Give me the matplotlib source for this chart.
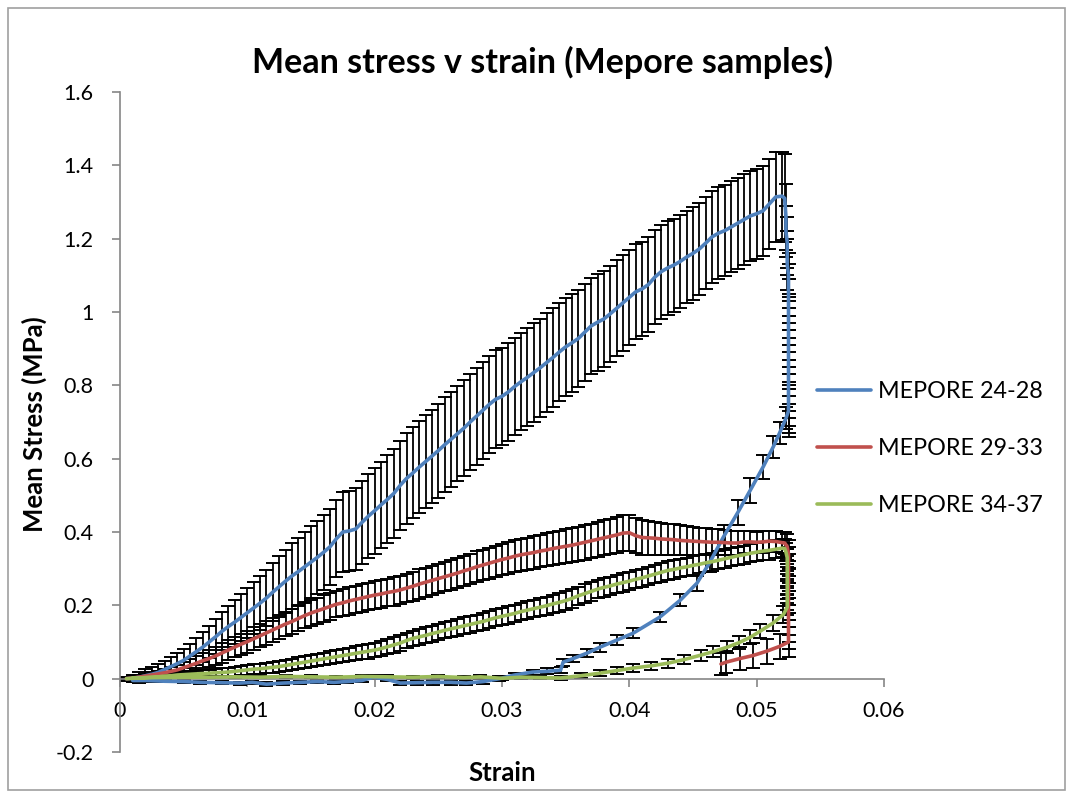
import matplotlib
matplotlib.use("Agg")
import matplotlib.pyplot as plt
from matplotlib.patches import Rectangle

plt.rcParams["font.family"] = ["Lato", "DejaVu Sans"]

# Strain steps of the loading ramp (shared by the three sample groups)
strain_load = [
    0.0005, 0.0010, 0.0015, 0.0020, 0.0025, 0.0030, 0.0035, 0.0040, 0.0045, 0.0050,
    0.0055, 0.0060, 0.0065, 0.0070, 0.0075, 0.0080, 0.0085, 0.0090, 0.0095, 0.0100,
    0.0105, 0.0110, 0.0115, 0.0120, 0.0125, 0.0130, 0.0135, 0.0140, 0.0145, 0.0150,
    0.0155, 0.0160, 0.0165, 0.0170, 0.0175, 0.0180, 0.0185, 0.0190, 0.0195, 0.0200,
    0.0205, 0.0210, 0.0215, 0.0220, 0.0225, 0.0230, 0.0235, 0.0240, 0.0245, 0.0250,
    0.0255, 0.0260, 0.0265, 0.0270, 0.0275, 0.0280, 0.0285, 0.0290, 0.0295, 0.0300,
    0.0305, 0.0310, 0.0315, 0.0320, 0.0325, 0.0330, 0.0335, 0.0340, 0.0345, 0.0350,
    0.0355, 0.0360, 0.0365, 0.0370, 0.0375, 0.0380, 0.0385, 0.0390, 0.0395, 0.0400,
    0.0405, 0.0410, 0.0415, 0.0420, 0.0425, 0.0430, 0.0435, 0.0440, 0.0445, 0.0450,
    0.0455, 0.0460, 0.0465, 0.0470, 0.0475, 0.0480, 0.0485, 0.0490, 0.0495, 0.0500,
    0.0505, 0.0510, 0.0515, 0.0520,
]

# MEPORE 24-28
blue_load = [
    0.000, 0.001, 0.004, 0.008, 0.012, 0.017, 0.025, 0.033, 0.041, 0.050,
    0.062, 0.074, 0.086, 0.100, 0.114, 0.129, 0.142, 0.154, 0.167, 0.180,
    0.193, 0.206, 0.220, 0.236, 0.251, 0.266, 0.280, 0.292, 0.305, 0.318,
    0.331, 0.345, 0.360, 0.382, 0.400, 0.403, 0.408, 0.426, 0.443, 0.458,
    0.474, 0.489, 0.505, 0.527, 0.546, 0.561, 0.577, 0.592, 0.607, 0.622,
    0.638, 0.653, 0.668, 0.683, 0.700, 0.716, 0.732, 0.748, 0.762, 0.770,
    0.782, 0.797, 0.810, 0.822, 0.835, 0.848, 0.862, 0.876, 0.891, 0.905,
    0.916, 0.928, 0.945, 0.962, 0.972, 0.981, 0.995, 1.010, 1.025, 1.040,
    1.055, 1.063, 1.075, 1.095, 1.110, 1.120, 1.128, 1.138, 1.150, 1.160,
    1.172, 1.188, 1.205, 1.215, 1.222, 1.232, 1.242, 1.252, 1.262, 1.268,
    1.276, 1.295, 1.314, 1.316,
]
blue_load_err = [
    0.005, 0.010, 0.015, 0.018, 0.020, 0.022, 0.024, 0.026, 0.028, 0.030,
    0.033, 0.036, 0.040, 0.044, 0.048, 0.052, 0.056, 0.060, 0.064, 0.068,
    0.071, 0.074, 0.077, 0.080, 0.083, 0.086, 0.089, 0.092, 0.095, 0.098,
    0.100, 0.102, 0.104, 0.106, 0.108, 0.110, 0.112, 0.114, 0.115, 0.117,
    0.118, 0.120, 0.121, 0.122, 0.123, 0.124, 0.125, 0.126, 0.127, 0.128,
    0.129, 0.130, 0.130, 0.131, 0.131, 0.132, 0.132, 0.132, 0.133, 0.133,
    0.133, 0.133, 0.133, 0.134, 0.134, 0.134, 0.134, 0.134, 0.133, 0.133,
    0.133, 0.133, 0.132, 0.132, 0.132, 0.131, 0.131, 0.131, 0.130, 0.130,
    0.130, 0.129, 0.129, 0.128, 0.128, 0.128, 0.127, 0.127, 0.126, 0.126,
    0.126, 0.125, 0.125, 0.125, 0.124, 0.124, 0.124, 0.123, 0.123, 0.123,
    0.122, 0.122, 0.122, 0.121,
]
blue_hold_strain = [0.0522, 0.0523, 0.0523, 0.0524, 0.0524, 0.0524, 0.0525, 0.0525,
                    0.0525, 0.0525, 0.0525, 0.0525, 0.0525, 0.0525, 0.0525, 0.0525,
                    0.0525, 0.0525, 0.0525, 0.0525, 0.0525, 0.0525]
blue_hold = [1.31, 1.26, 1.22, 1.19, 1.16, 1.13, 1.10, 1.06, 1.02, 0.98, 0.95,
             0.93, 0.91, 0.89, 0.87, 0.85, 0.83, 0.81, 0.79, 0.77, 0.75, 0.73]
blue_hold_err = [0.12, 0.09, 0.07, 0.07, 0.06, 0.07, 0.06, 0.07, 0.07, 0.07, 0.08,
                 0.08, 0.08, 0.08, 0.08, 0.08, 0.08, 0.08, 0.08, 0.08, 0.08, 0.07]
blue_unload_strain = [
    0.0523, 0.0518, 0.0513, 0.0505, 0.0495, 0.0485, 0.0474, 0.0463, 0.0453, 0.0440,
    0.0424, 0.0403, 0.0390, 0.0377, 0.0367, 0.0356, 0.0348, 0.0346, 0.0335, 0.0324,
    0.0310, 0.0298, 0.0285, 0.0272, 0.0260, 0.0246, 0.0233, 0.0220, 0.0210, 0.0199,
    0.0190, 0.0178, 0.0168, 0.0155, 0.0141, 0.0128, 0.0115, 0.0104, 0.0094, 0.0080,
    0.0063, 0.0050, 0.0035, 0.0020, 0.0010,
]
blue_unload = [
    0.710, 0.670, 0.632, 0.577, 0.514, 0.452, 0.387, 0.316, 0.260, 0.214,
    0.168, 0.124, 0.105, 0.086, 0.070, 0.055, 0.045, 0.023, 0.020, 0.018,
    0.010, 0.000, -0.008, -0.012, -0.010, -0.010, -0.011, -0.012, -0.002, 0.004,
    -0.005, -0.008, -0.010, -0.008, -0.010, -0.012, -0.015, -0.010, -0.012, -0.011,
    -0.010, -0.008, -0.007, -0.005, -0.005,
]
blue_unload_err = [
    0.030, 0.030, 0.031, 0.032, 0.034, 0.034, 0.032, 0.025, 0.020, 0.016,
    0.014, 0.013, 0.013, 0.012, 0.012, 0.010, 0.010, 0.008, 0.008, 0.007,
    0.006, 0.006, 0.006, 0.006, 0.006, 0.006, 0.006, 0.006, 0.005, 0.005,
    0.005, 0.005, 0.005, 0.005, 0.005, 0.005, 0.005, 0.005, 0.004, 0.004,
    0.004, 0.004, 0.003, 0.003, 0.003,
]

# MEPORE 29-33
red_load = [
    0.000, 0.002, 0.004, 0.007, 0.010, 0.013, 0.016, 0.020, 0.024, 0.030,
    0.036, 0.042, 0.049, 0.055, 0.062, 0.070, 0.078, 0.086, 0.094, 0.101,
    0.109, 0.117, 0.125, 0.133, 0.141, 0.149, 0.156, 0.164, 0.172, 0.179,
    0.185, 0.191, 0.197, 0.203, 0.207, 0.212, 0.216, 0.220, 0.224, 0.228,
    0.231, 0.235, 0.238, 0.242, 0.247, 0.252, 0.258, 0.263, 0.268, 0.273,
    0.278, 0.283, 0.288, 0.294, 0.299, 0.305, 0.310, 0.315, 0.320, 0.325,
    0.329, 0.334, 0.338, 0.341, 0.344, 0.348, 0.351, 0.355, 0.358, 0.361,
    0.364, 0.368, 0.372, 0.376, 0.380, 0.384, 0.388, 0.392, 0.397, 0.398,
    0.390, 0.385, 0.384, 0.383, 0.381, 0.380, 0.379, 0.377, 0.376, 0.375,
    0.374, 0.373, 0.372, 0.372, 0.371, 0.370, 0.370, 0.373, 0.373, 0.372,
    0.373, 0.375, 0.374, 0.371,
]
red_load_err = [
    0.002, 0.004, 0.005, 0.006, 0.007, 0.008, 0.010, 0.011, 0.013, 0.015,
    0.017, 0.019, 0.021, 0.023, 0.025, 0.026, 0.027, 0.028, 0.029, 0.030,
    0.031, 0.031, 0.032, 0.032, 0.033, 0.033, 0.034, 0.034, 0.035, 0.035,
    0.035, 0.036, 0.036, 0.036, 0.037, 0.037, 0.037, 0.037, 0.038, 0.038,
    0.038, 0.038, 0.039, 0.039, 0.039, 0.039, 0.040, 0.040, 0.040, 0.040,
    0.040, 0.041, 0.041, 0.041, 0.041, 0.042, 0.042, 0.042, 0.042, 0.042,
    0.043, 0.043, 0.043, 0.044, 0.044, 0.044, 0.045, 0.045, 0.045, 0.046,
    0.046, 0.046, 0.047, 0.047, 0.048, 0.048, 0.048, 0.049, 0.049, 0.049,
    0.048, 0.047, 0.046, 0.045, 0.044, 0.043, 0.042, 0.041, 0.040, 0.039,
    0.038, 0.037, 0.036, 0.035, 0.034, 0.033, 0.032, 0.031, 0.030, 0.029,
    0.029, 0.028, 0.028, 0.028,
]
red_hold_strain = [0.0522, 0.0524, 0.0525, 0.0525, 0.0525, 0.0525, 0.0525, 0.0525,
                   0.0525, 0.0525, 0.0525, 0.0525, 0.0525, 0.0525, 0.0525]
red_hold = [0.370, 0.360, 0.340, 0.320, 0.300, 0.280, 0.260, 0.240,
            0.220, 0.200, 0.180, 0.160, 0.140, 0.120, 0.100]
red_hold_err = [0.030, 0.035, 0.038, 0.040, 0.040, 0.040, 0.040, 0.040,
                0.040, 0.040, 0.040, 0.040, 0.040, 0.040, 0.040]
red_unload_strain = [0.0518, 0.0508, 0.0497, 0.0487, 0.0476, 0.0472]
red_unload = [0.088, 0.075, 0.063, 0.055, 0.045, 0.040]
red_unload_err = [0.035, 0.034, 0.033, 0.031, 0.030, 0.029]

# MEPORE 34-37
green_load = [
    0.000, 0.001, 0.002, 0.003, 0.004, 0.005, 0.007, 0.008, 0.010, 0.011,
    0.012, 0.013, 0.014, 0.015, 0.016, 0.017, 0.018, 0.020, 0.022, 0.024,
    0.026, 0.027, 0.029, 0.031, 0.033, 0.036, 0.039, 0.042, 0.045, 0.048,
    0.051, 0.054, 0.057, 0.060, 0.063, 0.066, 0.069, 0.072, 0.075, 0.078,
    0.082, 0.087, 0.092, 0.097, 0.104, 0.110, 0.114, 0.118, 0.123, 0.127,
    0.132, 0.136, 0.140, 0.144, 0.148, 0.152, 0.156, 0.161, 0.166, 0.170,
    0.174, 0.178, 0.183, 0.187, 0.191, 0.195, 0.199, 0.204, 0.208, 0.213,
    0.219, 0.226, 0.232, 0.238, 0.244, 0.249, 0.253, 0.258, 0.262, 0.266,
    0.271, 0.275, 0.280, 0.285, 0.290, 0.295, 0.298, 0.302, 0.305, 0.309,
    0.312, 0.316, 0.319, 0.323, 0.327, 0.331, 0.335, 0.338, 0.342, 0.345,
    0.348, 0.350, 0.353, 0.356,
]
green_load_err = [
    0.002, 0.003, 0.003, 0.004, 0.004, 0.005, 0.006, 0.006, 0.007, 0.008,
    0.009, 0.009, 0.010, 0.010, 0.011, 0.011, 0.012, 0.012, 0.013, 0.013,
    0.014, 0.014, 0.014, 0.015, 0.015, 0.015, 0.016, 0.016, 0.016, 0.017,
    0.017, 0.017, 0.018, 0.018, 0.018, 0.019, 0.019, 0.019, 0.020, 0.020,
    0.020, 0.020, 0.021, 0.021, 0.021, 0.021, 0.022, 0.022, 0.022, 0.022,
    0.022, 0.022, 0.023, 0.023, 0.023, 0.023, 0.023, 0.023, 0.023, 0.024,
    0.024, 0.024, 0.024, 0.024, 0.024, 0.024, 0.024, 0.024, 0.025, 0.025,
    0.025, 0.025, 0.025, 0.025, 0.025, 0.025, 0.025, 0.025, 0.025, 0.025,
    0.025, 0.025, 0.025, 0.025, 0.025, 0.025, 0.025, 0.025, 0.025, 0.025,
    0.025, 0.025, 0.025, 0.025, 0.025, 0.025, 0.025, 0.025, 0.025, 0.025,
    0.025, 0.025, 0.025, 0.025,
]
green_hold_strain = [0.0522, 0.0523, 0.0524, 0.0524, 0.0524, 0.0524, 0.0524,
                     0.0524, 0.0524, 0.0524]
green_hold = [0.355, 0.345, 0.330, 0.310, 0.290, 0.270, 0.250, 0.230, 0.210, 0.195]
green_hold_err = [0.025, 0.025, 0.025, 0.025, 0.024, 0.024, 0.023, 0.023, 0.022, 0.022]
green_unload_strain = [
    0.0521, 0.0513, 0.0503, 0.0495, 0.0486, 0.0477, 0.0466, 0.0456, 0.0443, 0.0430,
    0.0417, 0.0403, 0.0390, 0.0377, 0.0362, 0.0346, 0.0330, 0.0315, 0.0300, 0.0283,
    0.0270, 0.0250, 0.0230, 0.0210, 0.0190, 0.0170, 0.0150, 0.0130, 0.0110, 0.0090,
    0.0070, 0.0050, 0.0030, 0.0010,
]
green_unload = [
    0.175, 0.152, 0.130, 0.113, 0.098, 0.086, 0.074, 0.064, 0.052, 0.042,
    0.035, 0.029, 0.022, 0.015, 0.008, 0.002, 0.003, 0.004, 0.001, 0.005,
    0.003, 0.006, 0.004, 0.005, 0.006, 0.004, 0.005, 0.006, 0.004, 0.005,
    0.004, 0.004, 0.003, 0.002,
]
green_unload_err = [
    0.022, 0.021, 0.020, 0.019, 0.018, 0.017, 0.016, 0.015, 0.013, 0.012,
    0.011, 0.010, 0.009, 0.008, 0.007, 0.006, 0.005, 0.005, 0.005, 0.005,
    0.004, 0.004, 0.004, 0.004, 0.004, 0.004, 0.004, 0.004, 0.003, 0.003,
    0.003, 0.003, 0.003, 0.003,
]

series_names = ["MEPORE 24-28", "MEPORE 29-33", "MEPORE 34-37"]
series_colors = ["#4F81BD", "#C0504D", "#9BBB59"]

x_ticks = [0, 0.01, 0.02, 0.03, 0.04, 0.05, 0.06]
x_tick_labels = ["0", "0.01", "0.02", "0.03", "0.04", "0.05", "0.06"]
y_ticks = [-0.2, 0, 0.2, 0.4, 0.6, 0.8, 1.0, 1.2, 1.4, 1.6]
y_tick_labels = ["-0.2", "0", "0.2", "0.4", "0.6", "0.8", "1", "1.2", "1.4", "1.6"]

series = [
    (strain_load + blue_hold_strain + blue_unload_strain,
     blue_load + blue_hold + blue_unload,
     blue_load_err + blue_hold_err + blue_unload_err),
    (strain_load + red_hold_strain + red_unload_strain,
     red_load + red_hold + red_unload,
     red_load_err + red_hold_err + red_unload_err),
    (strain_load + green_hold_strain + green_unload_strain,
     green_load + green_hold + green_unload,
     green_load_err + green_hold_err + green_unload_err),
]

fig = plt.figure(figsize=(10.7, 7.98), dpi=100)
ax = fig.add_axes([120 / 1070, 1 - 752 / 798, (884 - 120) / 1070, (752 - 92) / 798])

# error bars first, lines on top
for x, y, e in series:
    ax.errorbar(x, y, yerr=e, fmt="none", ecolor="black", elinewidth=1.3,
                capsize=5, capthick=1.4, zorder=2)

for (x, y, e), name, col in zip(series, series_names, series_colors):
    ax.plot(x, y, color=col, lw=2.6, label=name, zorder=3,
            solid_joinstyle="round", solid_capstyle="round")

ax.set_xlim(0, 0.06)
ax.set_ylim(-0.2, 1.6)
ax.set_xticks(x_ticks)
ax.set_xticklabels(x_tick_labels)
ax.set_yticks(y_ticks)
ax.set_yticklabels(y_tick_labels)

for s in ["top", "right"]:
    ax.spines[s].set_visible(False)
ax.spines["bottom"].set_position(("data", 0))
for s in ["left", "bottom"]:
    ax.spines[s].set_color("#868686")
    ax.spines[s].set_linewidth(1.2)
ax.tick_params(axis="both", direction="out", length=6, width=1.2, color="#868686",
               labelsize=15.5)
ax.tick_params(axis="x", pad=10)
ax.tick_params(axis="y", pad=13)

fig.text(543 / 1070, 1 - 62 / 798, "Mean stress v strain (Mepore samples)",
         ha="center", va="center", fontsize=24.5, fontweight="bold")
fig.text(34 / 1070, 1 - 424 / 798, "Mean Stress (MPa)", rotation=90,
         ha="center", va="center", fontsize=18.5, fontweight="bold")
fig.text(502 / 1070, 1 - 773 / 798, "Strain", ha="center", va="center",
         fontsize=18.5, fontweight="bold")

ax.legend(loc="upper left", bbox_to_anchor=(817 / 1070, 1 - 381 / 798),
          bbox_transform=fig.transFigure, frameon=False, fontsize=16.8,
          handlelength=2.3, handletextpad=0.3, labelspacing=1.55,
          borderpad=0, borderaxespad=0)

fig.patches.append(Rectangle((8 / 1070, 8 / 798), 1057 / 1070, 782 / 798,
                             transform=fig.transFigure, fill=False,
                             edgecolor="#A0A0A0", lw=1.2))

fig.savefig("out.png", dpi=100)
